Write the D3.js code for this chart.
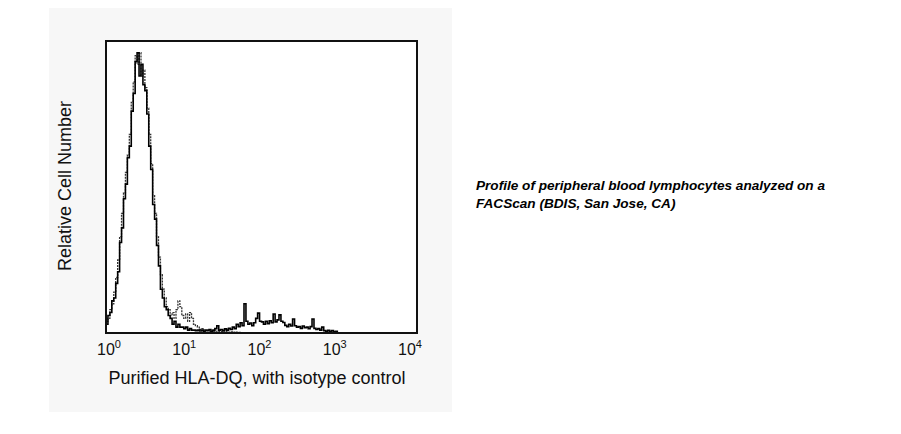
<!DOCTYPE html>
<html>
<head>
<meta charset="utf-8">
<script src="https://cdn.jsdelivr.net/npm/d3@7/dist/d3.min.js"></script>
<style>
  html, body { margin: 0; padding: 0; background: #ffffff; }
  svg { display: block; }
</style>
</head>
<body>
<svg id="chart" width="901" height="434"></svg>
<script>
// ---- data ----
// histogram channels: 0.025-decade bins starting at 10^0
const binDecades = 0.025;
const tickValues = [1, 10, 100, 1000, 10000];
const tickExponents = ["0", "1", "2", "3", "4"];
const xTitle = "Purified HLA-DQ, with isotype control";
const yTitle = "Relative Cell Number";
const noteLines = [
  "Profile of peripheral blood lymphocytes analyzed on a",
  "FACScan (BDIS, San Jose, CA)"
];
// HLA-DQ stained (solid)
const stained = [
  3, 6, 7, 11, 12, 17, 21, 31, 36, 46,
  51, 60, 64, 76, 82, 93, 96, 88, 92, 85,
  83, 75, 64, 56, 44, 39, 30, 23, 15, 12,
  9, 8, 6, 5, 3, 4, 2, 3, 2, 2,
  1.5, 2, 1, 1.5, 1, 1, 0.8, 1, 0.7, 1,
  0.6, 1, 0.8, 1.2, 0.6, 1, 1.5, 2.5, 1, 1.2,
  0.8, 1.4, 1, 1.6, 1.2, 2, 1.5, 3, 2.2, 3.5,
  2.5, 10, 4, 3, 3.4, 2.5, 3.5, 5, 6.8, 4,
  3.8, 3, 4, 3.2, 4.2, 3.5, 6.5, 3.8, 4.5, 6.2,
  4, 3.6, 2.6, 2.2, 3, 2.4, 4.8, 2.5, 2, 2.2,
  1.6, 2.4, 1.8, 2, 1.5, 2.2, 4.8, 1.6, 1.2, 1.5,
  1, 2, 0.8, 0.6, 0.9, 0.5, 0.8, 0.4, 0.6, 0
];
// isotype control (dotted)
const isotype = [
  4, 5, 8, 10, 14, 19, 25, 33, 41, 48,
  55, 61, 68, 79, 86, 95, 92, 96, 88, 90,
  84, 77, 68, 58, 47, 41, 33, 26, 20, 15,
  12, 9, 8, 6, 7, 5, 8, 11, 9, 6,
  5, 6.5, 4, 7, 5, 3, 2.5, 2, 1.2, 1.5,
  1, 0.8, 1, 0.6, 0.8, 0.5, 0.7, 0.4, 0.6, 0.5,
  0.4, 0.3, 0.5, 0.3, 0.4, 0.3, 0.2, 0.3, 0.2, 0.1,
  0, 0, 0, 0, 0, 0, 0, 0, 0, 0
];

// ---- layout ----
const svg = d3.select("#chart");
const plot = { left: 106, right: 417, top: 41, bottom: 333 };

svg.append("rect")
  .attr("x", 49).attr("y", 8).attr("width", 403).attr("height", 404)
  .attr("fill", "#f7f7f7");

svg.append("rect")
  .attr("x", plot.left).attr("y", plot.top)
  .attr("width", plot.right - plot.left).attr("height", plot.bottom - plot.top)
  .attr("fill", "#ffffff");

const x = d3.scaleLog().domain([1, 10000]).range([plot.left, plot.right]);
const y = d3.scaleLinear().domain([0, 100]).range([plot.bottom, plot.top]);
// label placement scale (tick labels in the source sit slightly inside)
const xLabel = d3.scaleLog().domain([1, 10000]).range([106, 407]);

svg.append("clipPath").attr("id", "clip")
  .append("rect")
  .attr("x", plot.left).attr("y", plot.top)
  .attr("width", plot.right - plot.left).attr("height", plot.bottom - plot.top);

function toPoints(arr) {
  const pts = arr.map((v, i) => [Math.pow(10, i * binDecades), v]);
  pts.push([Math.pow(10, arr.length * binDecades), arr[arr.length - 1]]);
  return pts;
}
const line = d3.line()
  .x(d => x(d[0]))
  .y(d => y(d[1]))
  .curve(d3.curveStepAfter);

const g = svg.append("g").attr("clip-path", "url(#clip)");
g.append("path")
  .datum(toPoints(isotype))
  .attr("d", line)
  .attr("fill", "none")
  .attr("stroke", "#333")
  .attr("stroke-width", 1.3)
  .attr("stroke-dasharray", "2,1");
g.append("path")
  .datum(toPoints(stained))
  .attr("d", line)
  .attr("fill", "none")
  .attr("stroke", "#000")
  .attr("stroke-width", 1.6);

// frame
svg.append("rect")
  .attr("x", plot.left).attr("y", plot.top)
  .attr("width", plot.right - plot.left).attr("height", plot.bottom - plot.top)
  .attr("fill", "none").attr("stroke", "#111").attr("stroke-width", 2);

// tick labels
const tl = svg.append("g")
  .attr("font-family", "Liberation Sans, Arial, sans-serif")
  .attr("fill", "#111");
tickValues.forEach((v, i) => {
  const t = tl.append("text")
    .attr("x", xLabel(v) - 9)
    .attr("y", 355)
    .attr("font-size", 16);
  t.append("tspan").text("10");
  t.append("tspan").attr("font-size", 11).attr("dy", -7).text(tickExponents[i]);
});

// axis titles
svg.append("text")
  .attr("x", 257).attr("y", 384)
  .attr("text-anchor", "middle")
  .attr("font-family", "Liberation Sans, Arial, sans-serif")
  .attr("font-size", 18)
  .attr("fill", "#111")
  .text(xTitle);

svg.append("text")
  .attr("transform", "translate(71,186) rotate(-90)")
  .attr("text-anchor", "middle")
  .attr("font-family", "Liberation Sans, Arial, sans-serif")
  .attr("font-size", 18)
  .attr("fill", "#111")
  .text(yTitle);

// note
noteLines.forEach((s, i) => {
  svg.append("text")
    .attr("x", 476).attr("y", 190 + i * 18)
    .attr("font-family", "Liberation Sans, Arial, sans-serif")
    .attr("font-size", 13.6)
    .attr("font-weight", "bold")
    .attr("font-style", "italic")
    .attr("fill", "#000")
    .text(s);
});
</script>
</body>
</html>
